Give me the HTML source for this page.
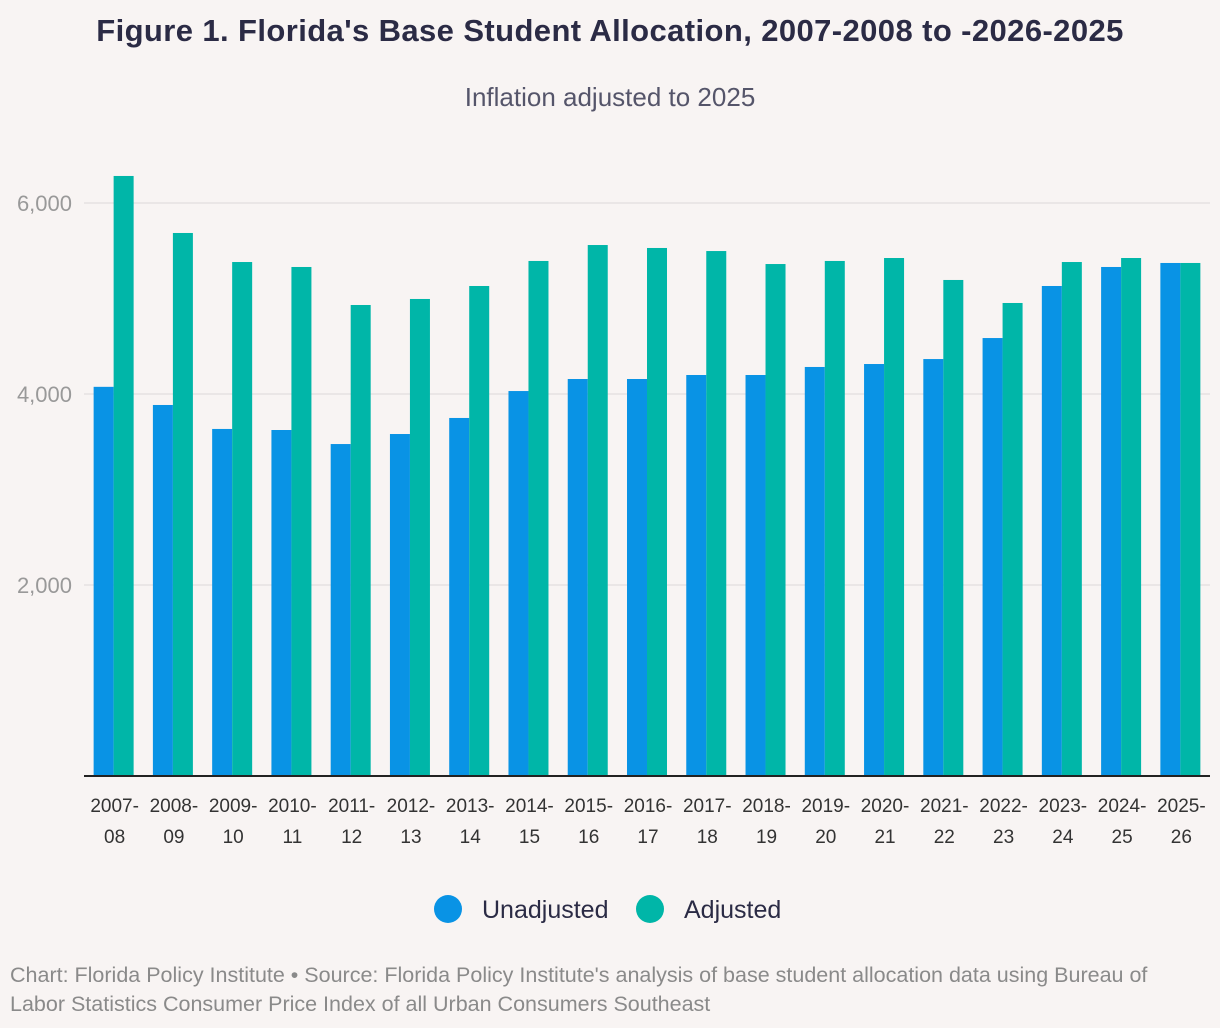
<!DOCTYPE html>
<html><head><meta charset="utf-8"><style>
body{margin:0;background:#f8f4f3;font-family:"Liberation Sans",sans-serif;}
#wrap{position:relative;width:1220px;height:1028px;overflow:hidden;}
h1{position:absolute;left:0;width:1220px;top:13px;margin:0;text-align:center;font-size:31px;font-weight:bold;color:#2b2b45;letter-spacing:0.4px;}
.sub{position:absolute;left:0;width:1220px;top:82px;text-align:center;font-size:26px;color:#55556a;}
.note{position:absolute;left:10px;top:961px;font-size:21.5px;line-height:29px;color:#8a8a8a;white-space:nowrap;}
</style></head><body><div id="wrap">
<h1>Figure 1. Florida's Base Student Allocation, 2007-2008 to -2026-2025</h1>
<div class="sub">Inflation adjusted to 2025</div>
<svg id="chart" width="1220" height="1028" style="position:absolute;left:0;top:0"></svg>
<div class="note">Chart: Florida Policy Institute • Source: Florida Policy Institute's analysis of base student allocation data using Bureau of<br>Labor Statistics Consumer Price Index of all Urban Consumers Southeast</div>
</div>
<script>
const categories=["2007-|08","2008-|09","2009-|10","2010-|11","2011-|12","2012-|13","2013-|14","2014-|15","2015-|16","2016-|17","2017-|18","2018-|19","2019-|20","2020-|21","2021-|22","2022-|23","2023-|24","2024-|25","2025-|26"];
const unadjusted=[4075,3885,3634,3623,3476,3581,3749,4031,4157,4157,4199,4199,4283,4314,4366,4586,5131,5330,5372];
const adjusted=[6283,5686,5382,5330,4932,4995,5131,5393,5560,5529,5497,5361,5393,5424,5194,4953,5382,5424,5372];
const yTicks=[2000,4000,6000];
const NS="http://www.w3.org/2000/svg";
const svg=document.getElementById('chart');
const x0=84,x1=1210,yBase=776,pxPer=0.0955;
const y=v=>yBase-v*pxPer;
const gw=(x1-x0)/categories.length,bw=20;
function mk(t,a){const e=document.createElementNS(NS,t);for(const k in a)e.setAttribute(k,a[k]);svg.appendChild(e);return e;}
yTicks.forEach(t=>{
  const l=mk('line',{x1:x0,x2:x1,y1:y(t),y2:y(t),stroke:'#dcd8d8','stroke-width':1});
  
  
  const tx=mk('text',{x:72,y:y(t)+8,'text-anchor':'end','font-size':22,fill:'#999','font-family':'Liberation Sans'});
  tx.textContent=t.toLocaleString('en-US');
  
  
});
categories.forEach((c,i)=>{
  const cx=x0+gw*(i+0.5);
  const r1=mk('rect',{x:cx-bw,y:y(unadjusted[i]),width:bw,height:yBase-y(unadjusted[i]),fill:'#0993e5'});
  
  
  const r2=mk('rect',{x:cx,y:y(adjusted[i]),width:bw,height:yBase-y(adjusted[i]),fill:'#00b6a8'});
  
  
  c.split('|').forEach((p,j)=>{
    const t=mk('text',{x:cx+1,y:812+j*31,'text-anchor':'middle','font-size':19,fill:'#333','font-family':'Liberation Sans'});
    t.textContent=p;
    
    
  });
});
const ax=mk('line',{x1:x0,x2:x1,y1:yBase,y2:yBase,stroke:'#222','stroke-width':2});


[[448,'#0993e5','Unadjusted',482],[650,'#00b6a8','Adjusted',684]].forEach(([cx,col,lab,tx])=>{
  const c=mk('circle',{cx:cx,cy:909,r:14,fill:col});
  
  
  const t=mk('text',{x:tx,y:918,'font-size':25,fill:'#2b2b45','font-family':'Liberation Sans'});
  t.textContent=lab;
  
  
});
</script></body></html>
